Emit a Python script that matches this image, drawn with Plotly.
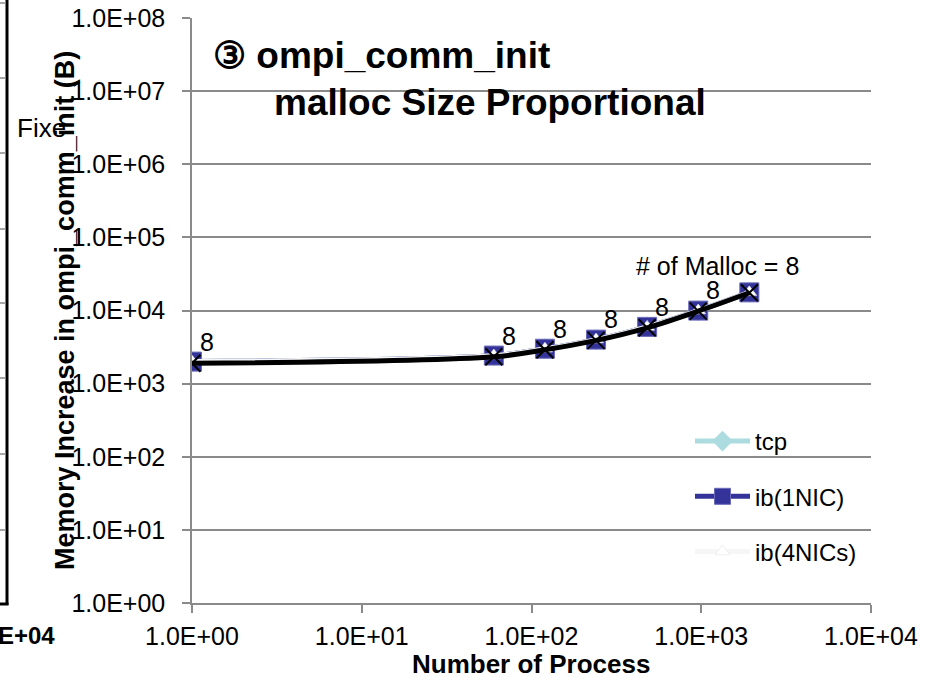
import math
import plotly.graph_objects as go

# ---------------- data ----------------
processes = [1, 60, 120, 240, 480, 960, 1920]
tcp = [2000, 2420, 3000, 4000, 5970, 9970, 17700]
ib_1nic = [2000, 2420, 3000, 4000, 5970, 9970, 17700]
ib_4nics = [2000, 2420, 3000, 4000, 5970, 9970, 17700]
malloc_size = [1900, 2330, 2900, 3900, 5800, 9800, 17500]
malloc_counts = [8, 8, 8, 8, 8, 8, 8]
last_label_prefix = "# of Malloc = "

x_tick_vals = [1, 10, 100, 1000, 10000]
x_tick_text = ["1.0E+00", "1.0E+01", "1.0E+02", "1.0E+03", "1.0E+04"]
y_tick_vals = [1, 10, 100, 1000, 10000, 100000, 1000000, 10000000, 100000000]
y_tick_text = ["1.0E+00", "1.0E+01", "1.0E+02", "1.0E+03", "1.0E+04",
               "1.0E+05", "1.0E+06", "1.0E+07", "1.0E+08"]

title_line1 = "③ ompi_comm_init"
title_line2 = "malloc Size Proportional"
x_title = "Number of Process"
y_title = "Memory Increase in ompi_comm_init (B)"

# ---------------- layout constants ----------------
W, H = 932, 678
ML, MR, MT, MB = 192, 61, 18, 75
PW, PH = W - ML - MR, H - MT - MB
FONT = "Liberation Sans, Arial, sans-serif"
GRID = "#8a8a8a"


def px_x(px):
    return (px - ML) / PW


def px_y(py):
    return (H - MB - py) / PH


fig = go.Figure()

fig.add_trace(go.Scatter(
    x=processes, y=tcp, name="tcp", mode="lines+markers", legendgroup="a",
    line=dict(color="#ADDCE0", width=5, shape="spline"),
    marker=dict(symbol="diamond", size=16, color="#ADDCE0"),
))
fig.add_trace(go.Scatter(
    x=processes, y=ib_1nic, name="ib(1NIC)", mode="lines+markers", legendgroup="b",
    line=dict(color="#333399", width=5, shape="spline"),
    marker=dict(symbol="square", size=19, color="#333399",
                line=dict(color="#6a6ab8", width=1)),
))
fig.add_trace(go.Scatter(
    x=processes, y=ib_4nics, name="ib(4NICs)", mode="lines+markers", legendgroup="c",
    line=dict(color="#F6F6F6", width=5, shape="spline"),
    marker=dict(symbol="triangle-up", size=13, color="#FFFFFF",
                line=dict(color="#e4e4e4", width=0.6)),
))
fig.add_trace(go.Scatter(
    x=processes, y=malloc_size, name="malloc", mode="lines+markers", showlegend=False,
    line=dict(color="#000000", width=5, shape="spline"),
    marker=dict(symbol="x-thin", size=17, color="#000000",
                line=dict(color="#000000", width=2)),
))

annotations = []
for i, (xv, yv, c) in enumerate(zip(processes, malloc_size, malloc_counts)):
    last = i == len(processes) - 1
    annotations.append(dict(
        x=math.log10(xv), y=math.log10(yv), xref="x", yref="y",
        text=(last_label_prefix + str(c)) if last else str(c),
        showarrow=False, font=dict(family=FONT, size=25, color="#000"),
        xshift=-32 if last else 15, yshift=27 if last else 21,
    ))

# titles
annotations += [
    dict(x=px_x(211), y=px_y(55), xref="paper", yref="paper", text="<b>" + title_line1 + "</b>",
         xanchor="left", yanchor="middle", showarrow=False,
         font=dict(family=FONT, size=37, color="#000")),
    dict(x=px_x(272), y=px_y(102), xref="paper", yref="paper", text="<b>" + title_line2 + "</b>",
         xanchor="left", yanchor="middle", showarrow=False,
         font=dict(family=FONT, size=37, color="#000")),
    dict(x=px_x(531), y=px_y(664), xref="paper", yref="paper", text="<b>" + x_title + "</b>",
         xanchor="center", yanchor="middle", showarrow=False,
         font=dict(family=FONT, size=26, color="#000")),
    dict(x=px_x(65), y=px_y(311), xref="paper", yref="paper", text="<b>" + y_title + "</b>",
         textangle=-90, xanchor="center", yanchor="middle", showarrow=False,
         font=dict(family=FONT, size=27, color="#000")),
    # fragments of neighbouring chart
    dict(x=px_x(57), y=px_y(635), xref="paper", yref="paper", text="<b>E+04</b>",
         xanchor="right", yanchor="middle", showarrow=False,
         font=dict(family=FONT, size=24, color="#000")),
    dict(x=px_x(15), y=px_y(128), xref="paper", yref="paper", text="Fixe",
         xanchor="left", yanchor="middle", showarrow=False,
         font=dict(family=FONT, size=26, color="#000")),
]

shapes = [
    dict(type="line", xref="paper", yref="paper", x0=px_x(7), x1=px_x(7), y0=px_y(-2), y1=px_y(605),
         line=dict(color="#000", width=3)),
    dict(type="line", xref="paper", yref="paper", x0=px_x(-2), x1=px_x(8.5), y0=px_y(604), y1=px_y(604),
         line=dict(color="#000", width=3)),
]
for gy in [3, 78, 153, 229, 303, 378, 454, 530]:
    shapes.append(dict(type="line", xref="paper", yref="paper", x0=px_x(-2), x1=px_x(6),
                       y0=px_y(gy), y1=px_y(gy), line=dict(color=GRID, width=1.5)))

fig.update_layout(
    width=W, height=H,
    margin=dict(l=ML, r=MR, t=MT, b=MB, autoexpand=False),
    paper_bgcolor="white", plot_bgcolor="white",
    font=dict(family=FONT, size=24, color="#000"),
    showlegend=True,
    legend=dict(x=px_x(690), y=px_y(419), xanchor="left", yanchor="top",
                bgcolor="rgba(0,0,0,0)", tracegroupgap=21, itemwidth=55,
                font=dict(family=FONT, size=24, color="#000"), traceorder="grouped"),
    annotations=annotations, shapes=shapes,
)
fig.update_xaxes(
    type="log", range=[0, 4], tickvals=x_tick_vals, ticktext=x_tick_text,
    showgrid=False, zeroline=False, showline=True, linecolor=GRID, linewidth=1.5,
    ticks="outside", ticklen=8, tickcolor=GRID, tickwidth=1.5, ticklabelstandoff=2,
    tickfont=dict(family=FONT, size=25, color="#000"),
)
fig.update_yaxes(
    type="log", range=[0, 8], tickvals=y_tick_vals, ticktext=y_tick_text,
    showgrid=True, gridcolor=GRID, gridwidth=1.5, zeroline=False,
    showline=True, linecolor=GRID, linewidth=1.5,
    ticks="outside", ticklen=8, tickcolor=GRID, tickwidth=1.5, ticklabelstandoff=12,
    tickfont=dict(family=FONT, size=25, color="#000"),
)

fig.write_html("out.html")
